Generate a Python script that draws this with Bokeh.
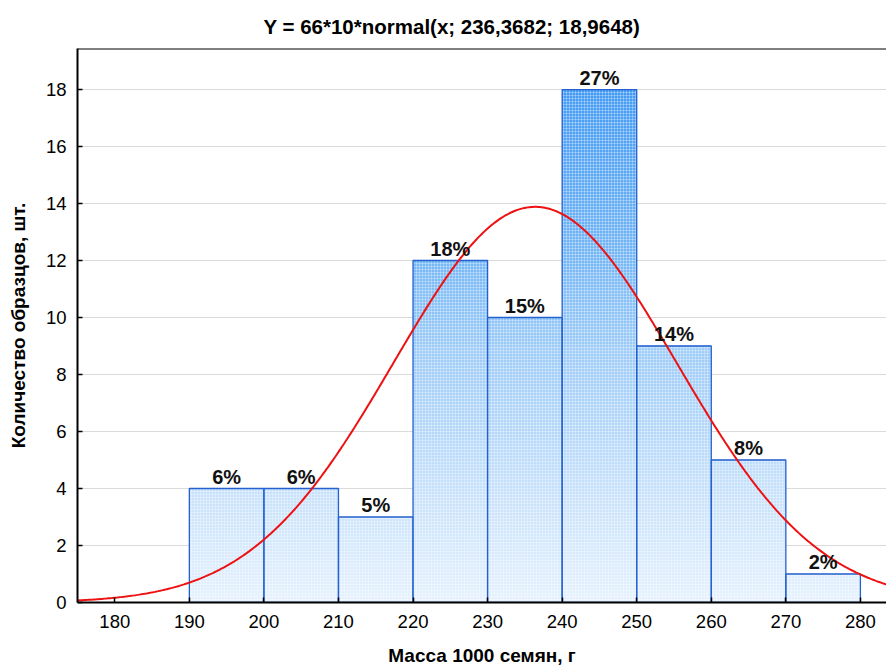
import numpy as np
from bokeh.plotting import figure
from bokeh.models import ColumnDataSource, Span, Range1d, FixedTicker
from bokeh.core.properties import value
from bokeh.embed import file_html
from bokeh.resources import INLINE

# ---- data ----
bin_left = [190, 200, 210, 220, 230, 240, 250, 260, 270]
bin_right = [200, 210, 220, 230, 240, 250, 260, 270, 280]
counts = [4, 4, 3, 12, 10, 18, 9, 5, 1]
pct_labels = ["6%", "6%", "5%", "18%", "15%", "27%", "14%", "8%", "2%"]
x_ticks = [180, 190, 200, 210, 220, 230, 240, 250, 260, 270, 280]
y_ticks = [0, 2, 4, 6, 8, 10, 12, 14, 16, 18]

# fitted normal curve parameters (from the chart title)
n_total = 66
bin_width = 10
mean = 236.3682
sd = 18.9648

title_text = "Y = 66*10*normal(x; 236,3682; 18,9648)"
x_label = "Масса 1000 семян, г"
y_label = "Количество образцов, шт."

FONT = "Liberation Sans"

p = figure(width=886, height=671, output_backend="svg", toolbar_location=None,
           x_range=Range1d(175, 283.5), y_range=Range1d(0, 19.44),
           min_border_left=77, min_border_right=0, min_border_top=48,
           min_border_bottom=69)

p.title.text = title_text
p.title.align = "left"
p.title.offset = 186
p.title.text_font = FONT
p.title.text_font_size = "20.5px"
p.title.text_font_style = "bold"
p.title.text_color = "black"
p.title.standoff = 22

p.outline_line_color = None
p.background_fill_color = "white"
p.border_fill_color = "white"

# gridlines
p.xgrid.grid_line_color = None
p.ygrid.grid_line_color = "#dadada"
p.ygrid.grid_line_width = 1.2

# gradient fill of bars: horizontal strips coloured by height
stops_y = [0, 4, 9, 12, 18, 19.5]
stops_rgb = np.array([(230, 242, 254), (198, 225, 251), (156, 203, 248),
                      (118, 183, 246), (66, 154, 245), (58, 146, 245)], dtype=float)

def col_at(y):
    r = np.interp(y, stops_y, stops_rgb[:, 0])
    g = np.interp(y, stops_y, stops_rgb[:, 1])
    b = np.interp(y, stops_y, stops_rgb[:, 2])
    return "#%02x%02x%02x" % (int(r), int(g), int(b))

step = 0.1
sl, sr, sb, st, sc = [], [], [], [], []
for l, r, c in zip(bin_left, bin_right, counts):
    y0 = 0.0
    while y0 < c - 1e-9:
        y1 = min(y0 + step, c)
        sl.append(l); sr.append(r); sb.append(y0); st.append(y1 + (0.02 if y1 < c else 0))
        sc.append(col_at((y0 + y1) / 2))
        y0 = y1
p.quad(left=sl, right=sr, bottom=sb, top=st, fill_color=sc, line_color=None)

# bar outlines (with a fine white dot texture)
bars = ColumnDataSource(dict(left=bin_left, right=bin_right, top=counts,
                             bottom=[0] * len(counts), label=pct_labels,
                             center=[(a + b) / 2 for a, b in zip(bin_left, bin_right)]))
p.quad(left="left", right="right", bottom="bottom", top="top", source=bars,
       fill_color=None, hatch_pattern="+", hatch_color="white", hatch_alpha=0.3,
       hatch_scale=3, hatch_weight=1,
       line_color="#2360d0", line_width=1.3)

# fitted normal curve
xs = np.linspace(175, 290, 500)
ys = n_total * bin_width * np.exp(-0.5 * ((xs - mean) / sd) ** 2) / (sd * np.sqrt(2 * np.pi))
p.line(xs, ys, line_color="#ee1111", line_width=2)

# percentage labels
p.text(x="center", y="top", text="label", source=bars, text_align="center",
       text_baseline="bottom", y_offset=-1, text_font=value(FONT),
       text_font_style="bold", text_font_size="20px", text_color="#111111")

# top frame line
p.add_layout(Span(location=19.44, dimension="width", line_color="black", line_width=2))

# axes
for ax in (p.xaxis[0], p.yaxis[0]):
    ax.axis_line_color = "black"
    ax.axis_line_width = 2
    ax.major_tick_line_color = "black"
    ax.major_tick_line_width = 1.5
    ax.minor_tick_line_color = None
    ax.major_label_text_font = FONT
    ax.major_label_text_font_size = "18.5px"
    ax.major_label_text_color = "black"
    ax.axis_label_text_font = FONT
    ax.axis_label_text_font_style = "bold"
    ax.axis_label_text_font_size = "19px"
    ax.axis_label_text_color = "black"

p.xaxis.ticker = FixedTicker(ticks=x_ticks)
p.xaxis.major_tick_in = 5
p.xaxis.major_tick_out = 0
p.xaxis.major_label_standoff = 12
p.xaxis.axis_label = x_label
p.xaxis.axis_label_standoff = 14

p.yaxis.ticker = FixedTicker(ticks=y_ticks)
p.yaxis.major_tick_in = 5
p.yaxis.major_tick_out = 0
p.yaxis.major_label_standoff = 11
p.yaxis.axis_label = y_label
p.yaxis.axis_label_standoff = 14

open("out.html", "w").write(file_html(p, INLINE))
